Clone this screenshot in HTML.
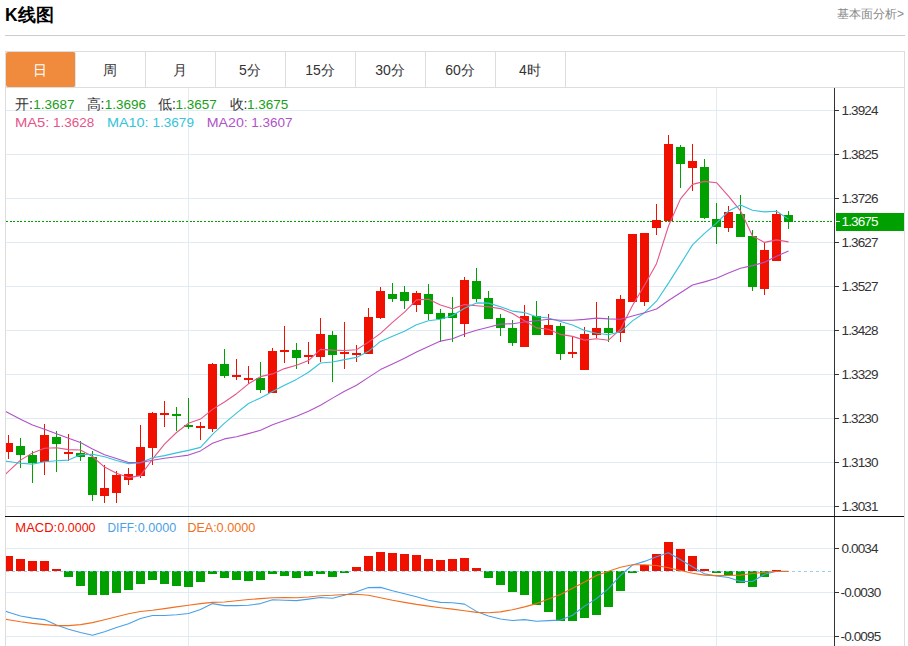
<!DOCTYPE html>
<html><head><meta charset="utf-8">
<style>
*{margin:0;padding:0;box-sizing:border-box}
html,body{width:908px;height:646px;overflow:hidden;background:#fff}
body{position:relative;font-family:"Liberation Sans",sans-serif;color:#333}
.abs{position:absolute;white-space:nowrap}
#title{left:5px;top:3.5px;font-size:17.5px;font-weight:bold;color:#000;line-height:22px}
#more{left:837px;top:6px;font-size:12px;color:#888;line-height:16px}
#hr{left:5px;top:35px;width:900px;height:1px;background:#ccc}
#tabs{left:5px;top:51px;width:900px;height:37px;border:1px solid #ddd}
.tab{position:absolute;top:0;height:35px;width:70px;border-right:1px solid #ddd;text-align:center;font-size:14px;line-height:37px;color:#333;text-indent:-1px}
.tab.on{background:#f08a3c;color:#fff;border-radius:2px;border-right:1px solid #dfe6eb;width:70px}
svg{position:absolute;left:0;top:0}
.info{font-size:13px;line-height:16px}
</style></head><body>
<div id="title" class="abs">K线图</div>
<div id="more" class="abs">基本面分析&gt;</div>
<div id="hr" class="abs"></div>
<div id="tabs" class="abs">
 <div class="tab on" style="left:0">日</div>
 <div class="tab" style="left:70px">周</div>
 <div class="tab" style="left:140px">月</div>
 <div class="tab" style="left:210px">5分</div>
 <div class="tab" style="left:280px">15分</div>
 <div class="tab" style="left:350px">30分</div>
 <div class="tab" style="left:420px">60分</div>
 <div class="tab" style="left:490px">4时</div>
</div>
<svg width="908" height="646" viewBox="0 0 908 646" shape-rendering="crispEdges">
 <!-- frame -->
 <rect x="5" y="88" width="1" height="558" fill="#ddd"/>
 <rect x="904" y="88" width="1" height="558" fill="#ddd"/>
 <!-- grid -->
 <g fill="#e1ebf3">
  <rect x="6" y="110" width="828" height="1"/>
  <rect x="6" y="154" width="828" height="1"/>
  <rect x="6" y="198" width="828" height="1"/>
  <rect x="6" y="242" width="828" height="1"/>
  <rect x="6" y="286" width="828" height="1"/>
  <rect x="6" y="330" width="828" height="1"/>
  <rect x="6" y="374" width="828" height="1"/>
  <rect x="6" y="418" width="828" height="1"/>
  <rect x="6" y="462" width="828" height="1"/>
  <rect x="6" y="506" width="828" height="1"/>
  <rect x="6" y="548" width="828" height="1"/>
  <rect x="6" y="592" width="828" height="1"/>
  <rect x="6" y="636" width="828" height="1"/>
  <rect x="188" y="88" width="1" height="558"/>
  <rect x="716" y="88" width="1" height="558"/>
 </g>
 <!-- axis -->
 <rect x="834" y="88" width="1" height="558" fill="#333"/>
 <rect x="5" y="516" width="899" height="1" fill="#111"/>
 <g fill="#333">
  <rect x="835" y="110" width="4" height="1"/>
  <rect x="835" y="154" width="4" height="1"/>
  <rect x="835" y="198" width="4" height="1"/>
  <rect x="835" y="242" width="4" height="1"/>
  <rect x="835" y="286" width="4" height="1"/>
  <rect x="835" y="330" width="4" height="1"/>
  <rect x="835" y="374" width="4" height="1"/>
  <rect x="835" y="418" width="4" height="1"/>
  <rect x="835" y="462" width="4" height="1"/>
  <rect x="835" y="506" width="4" height="1"/>
  <rect x="835" y="548" width="4" height="1"/>
  <rect x="835" y="592" width="4" height="1"/>
  <rect x="835" y="636" width="4" height="1"/>
 </g>
 <defs><clipPath id="cp"><rect x="6" y="88" width="828" height="428"/></clipPath>
 <clipPath id="cp2"><rect x="6" y="517" width="828" height="129"/></clipPath></defs>
 <g clip-path="url(#cp)">
 <line x1="6" y1="221.5" x2="834" y2="221.5" stroke="#00a000" stroke-width="1" stroke-dasharray="2 1.6"/>
 <rect x="8" y="435" width="1" height="24" fill="#f01000"/>
<rect x="4" y="443" width="9" height="9" fill="#f01000"/>
<rect x="20" y="438" width="1" height="30" fill="#00a000"/>
<rect x="16" y="446" width="9" height="9" fill="#00a000"/>
<rect x="32" y="451" width="1" height="32" fill="#00a000"/>
<rect x="28" y="455" width="9" height="8" fill="#00a000"/>
<rect x="44" y="424" width="1" height="51" fill="#f01000"/>
<rect x="40" y="435" width="9" height="27" fill="#f01000"/>
<rect x="56" y="431" width="1" height="41" fill="#00a000"/>
<rect x="52" y="437" width="9" height="7" fill="#00a000"/>
<rect x="68" y="434" width="1" height="27" fill="#f01000"/>
<rect x="64" y="452" width="9" height="2" fill="#f01000"/>
<rect x="80" y="441" width="1" height="20" fill="#00a000"/>
<rect x="76" y="453" width="9" height="4" fill="#00a000"/>
<rect x="92" y="451" width="1" height="50" fill="#00a000"/>
<rect x="88" y="457" width="9" height="38" fill="#00a000"/>
<rect x="104" y="465" width="1" height="38" fill="#f01000"/>
<rect x="100" y="488" width="9" height="8" fill="#f01000"/>
<rect x="116" y="471" width="1" height="32" fill="#f01000"/>
<rect x="112" y="475" width="9" height="18" fill="#f01000"/>
<rect x="128" y="468" width="1" height="17" fill="#f01000"/>
<rect x="124" y="474" width="9" height="6" fill="#f01000"/>
<rect x="140" y="425" width="1" height="53" fill="#f01000"/>
<rect x="136" y="447" width="9" height="29" fill="#f01000"/>
<rect x="152" y="412" width="1" height="53" fill="#f01000"/>
<rect x="148" y="413" width="9" height="35" fill="#f01000"/>
<rect x="164" y="401" width="1" height="26" fill="#f01000"/>
<rect x="160" y="413" width="9" height="2" fill="#f01000"/>
<rect x="176" y="407" width="1" height="24" fill="#00a000"/>
<rect x="172" y="414" width="9" height="2" fill="#00a000"/>
<rect x="188" y="398" width="1" height="31" fill="#00a000"/>
<rect x="184" y="425" width="9" height="2" fill="#00a000"/>
<rect x="200" y="422" width="1" height="18" fill="#f01000"/>
<rect x="196" y="426" width="9" height="2" fill="#f01000"/>
<rect x="212" y="363" width="1" height="69" fill="#f01000"/>
<rect x="208" y="364" width="9" height="65" fill="#f01000"/>
<rect x="224" y="349" width="1" height="29" fill="#00a000"/>
<rect x="220" y="364" width="9" height="12" fill="#00a000"/>
<rect x="236" y="359" width="1" height="21" fill="#f01000"/>
<rect x="232" y="375" width="9" height="2" fill="#f01000"/>
<rect x="248" y="366" width="1" height="18" fill="#f01000"/>
<rect x="244" y="378" width="9" height="2" fill="#f01000"/>
<rect x="260" y="362" width="1" height="31" fill="#00a000"/>
<rect x="256" y="378" width="9" height="12" fill="#00a000"/>
<rect x="272" y="348" width="1" height="45" fill="#f01000"/>
<rect x="268" y="351" width="9" height="42" fill="#f01000"/>
<rect x="284" y="326" width="1" height="37" fill="#f01000"/>
<rect x="280" y="350" width="9" height="2" fill="#f01000"/>
<rect x="296" y="343" width="1" height="26" fill="#00a000"/>
<rect x="292" y="350" width="9" height="8" fill="#00a000"/>
<rect x="308" y="342" width="1" height="22" fill="#f01000"/>
<rect x="304" y="355" width="9" height="2" fill="#f01000"/>
<rect x="320" y="318" width="1" height="44" fill="#f01000"/>
<rect x="316" y="334" width="9" height="23" fill="#f01000"/>
<rect x="332" y="331" width="1" height="51" fill="#00a000"/>
<rect x="328" y="335" width="9" height="20" fill="#00a000"/>
<rect x="344" y="322" width="1" height="47" fill="#f01000"/>
<rect x="340" y="352" width="9" height="2" fill="#f01000"/>
<rect x="356" y="345" width="1" height="17" fill="#f01000"/>
<rect x="352" y="353" width="9" height="2" fill="#f01000"/>
<rect x="368" y="308" width="1" height="46" fill="#f01000"/>
<rect x="364" y="317" width="9" height="37" fill="#f01000"/>
<rect x="380" y="287" width="1" height="32" fill="#f01000"/>
<rect x="376" y="291" width="9" height="27" fill="#f01000"/>
<rect x="392" y="283" width="1" height="19" fill="#00a000"/>
<rect x="388" y="294" width="9" height="5" fill="#00a000"/>
<rect x="404" y="286" width="1" height="23" fill="#00a000"/>
<rect x="400" y="292" width="9" height="9" fill="#00a000"/>
<rect x="416" y="291" width="1" height="21" fill="#f01000"/>
<rect x="412" y="293" width="9" height="12" fill="#f01000"/>
<rect x="428" y="284" width="1" height="36" fill="#00a000"/>
<rect x="424" y="294" width="9" height="20" fill="#00a000"/>
<rect x="440" y="309" width="1" height="33" fill="#00a000"/>
<rect x="436" y="313" width="9" height="6" fill="#00a000"/>
<rect x="452" y="297" width="1" height="45" fill="#00a000"/>
<rect x="448" y="313" width="9" height="5" fill="#00a000"/>
<rect x="464" y="277" width="1" height="60" fill="#f01000"/>
<rect x="460" y="280" width="9" height="44" fill="#f01000"/>
<rect x="476" y="268" width="1" height="34" fill="#00a000"/>
<rect x="472" y="281" width="9" height="18" fill="#00a000"/>
<rect x="488" y="291" width="1" height="28" fill="#00a000"/>
<rect x="484" y="298" width="9" height="21" fill="#00a000"/>
<rect x="500" y="314" width="1" height="22" fill="#00a000"/>
<rect x="496" y="318" width="9" height="10" fill="#00a000"/>
<rect x="512" y="320" width="1" height="26" fill="#00a000"/>
<rect x="508" y="328" width="9" height="15" fill="#00a000"/>
<rect x="524" y="305" width="1" height="42" fill="#f01000"/>
<rect x="520" y="316" width="9" height="31" fill="#f01000"/>
<rect x="536" y="301" width="1" height="34" fill="#00a000"/>
<rect x="532" y="316" width="9" height="19" fill="#00a000"/>
<rect x="548" y="314" width="1" height="21" fill="#f01000"/>
<rect x="544" y="325" width="9" height="10" fill="#f01000"/>
<rect x="560" y="323" width="1" height="37" fill="#00a000"/>
<rect x="556" y="326" width="9" height="28" fill="#00a000"/>
<rect x="572" y="336" width="1" height="22" fill="#f01000"/>
<rect x="568" y="352" width="9" height="2" fill="#f01000"/>
<rect x="584" y="327" width="1" height="43" fill="#f01000"/>
<rect x="580" y="334" width="9" height="36" fill="#f01000"/>
<rect x="596" y="302" width="1" height="36" fill="#f01000"/>
<rect x="592" y="328" width="9" height="7" fill="#f01000"/>
<rect x="608" y="316" width="1" height="26" fill="#00a000"/>
<rect x="604" y="328" width="9" height="5" fill="#00a000"/>
<rect x="620" y="295" width="1" height="47" fill="#f01000"/>
<rect x="616" y="299" width="9" height="34" fill="#f01000"/>
<rect x="632" y="234" width="1" height="68" fill="#f01000"/>
<rect x="628" y="234" width="9" height="68" fill="#f01000"/>
<rect x="644" y="233" width="1" height="73" fill="#f01000"/>
<rect x="640" y="233" width="9" height="69" fill="#f01000"/>
<rect x="656" y="204" width="1" height="31" fill="#f01000"/>
<rect x="652" y="220" width="9" height="8" fill="#f01000"/>
<rect x="668" y="135" width="1" height="86" fill="#f01000"/>
<rect x="664" y="144" width="9" height="77" fill="#f01000"/>
<rect x="680" y="145" width="1" height="43" fill="#00a000"/>
<rect x="676" y="147" width="9" height="17" fill="#00a000"/>
<rect x="692" y="144" width="1" height="47" fill="#f01000"/>
<rect x="688" y="161" width="9" height="7" fill="#f01000"/>
<rect x="704" y="159" width="1" height="60" fill="#00a000"/>
<rect x="700" y="167" width="9" height="51" fill="#00a000"/>
<rect x="716" y="203" width="1" height="41" fill="#00a000"/>
<rect x="712" y="219" width="9" height="8" fill="#00a000"/>
<rect x="728" y="206" width="1" height="26" fill="#f01000"/>
<rect x="724" y="212" width="9" height="16" fill="#f01000"/>
<rect x="740" y="195" width="1" height="42" fill="#00a000"/>
<rect x="736" y="214" width="9" height="23" fill="#00a000"/>
<rect x="752" y="230" width="1" height="61" fill="#00a000"/>
<rect x="748" y="236" width="9" height="51" fill="#00a000"/>
<rect x="764" y="243" width="1" height="52" fill="#f01000"/>
<rect x="760" y="250" width="9" height="39" fill="#f01000"/>
<rect x="776" y="210" width="1" height="51" fill="#f01000"/>
<rect x="772" y="214" width="9" height="47" fill="#f01000"/>
<rect x="788" y="211" width="1" height="18" fill="#00a000"/>
<rect x="784" y="215" width="9" height="7" fill="#00a000"/>
 <g shape-rendering="auto"><polyline points="-3.5,482.7 8.5,471.4 20.5,460.1 32.5,452.9 44.5,448.2 56.5,447.8 68.5,449.6 80.5,450.0 92.5,456.5 104.5,467.1 116.5,473.3 128.5,477.6 140.5,475.6 152.5,459.2 164.5,444.2 176.5,432.5 188.5,423.2 200.5,419.1 212.5,409.4 224.5,402.0 236.5,393.7 248.5,383.8 260.5,376.6 272.5,373.9 284.5,368.6 296.5,365.2 308.5,360.6 320.5,349.4 332.5,350.1 344.5,350.5 356.5,349.7 368.5,342.1 380.5,333.4 392.5,322.3 404.5,312.1 416.5,299.9 428.5,299.3 440.5,304.9 452.5,308.7 464.5,304.6 476.5,305.8 488.5,306.8 500.5,308.6 512.5,313.5 524.5,320.7 536.5,327.9 548.5,329.2 560.5,334.4 572.5,336.4 584.5,340.1 596.5,338.7 608.5,340.2 620.5,329.2 632.5,305.5 644.5,285.2 656.5,263.7 668.5,226.0 680.5,198.9 692.5,184.4 704.5,181.4 716.5,182.7 728.5,196.2 740.5,210.8 752.5,236.0 764.5,242.4 776.5,239.9 788.5,241.9" fill="none" stroke="#e5558a" stroke-width="1.1" stroke-linejoin="round"/><polyline points="-3.5,459.8 8.5,461.5 20.5,463.2 32.5,464.1 44.5,461.8 56.5,460.8 68.5,460.1 80.5,454.8 92.5,454.2 104.5,456.8 116.5,460.5 128.5,463.6 140.5,462.8 152.5,457.8 164.5,455.6 176.5,452.9 188.5,450.4 200.5,447.4 212.5,434.3 224.5,423.1 236.5,413.1 248.5,403.5 260.5,397.9 272.5,391.6 284.5,385.3 296.5,379.4 308.5,372.2 320.5,363.0 332.5,362.0 344.5,359.6 356.5,357.4 368.5,351.3 380.5,341.4 392.5,336.2 404.5,331.3 416.5,324.8 428.5,320.7 440.5,319.2 452.5,315.5 464.5,308.3 476.5,302.9 488.5,303.1 500.5,306.8 512.5,311.1 524.5,312.6 536.5,316.8 548.5,318.0 560.5,321.5 572.5,325.0 584.5,330.4 596.5,333.3 608.5,334.7 620.5,331.8 632.5,320.9 644.5,312.7 656.5,301.2 668.5,283.1 680.5,264.1 692.5,244.9 704.5,233.3 716.5,223.2 728.5,211.1 740.5,204.9 752.5,210.2 764.5,211.9 776.5,211.3 788.5,219.1" fill="none" stroke="#34c3dc" stroke-width="1.1" stroke-linejoin="round"/><polyline points="-3.5,406.8 8.5,413.0 20.5,419.2 32.5,425.1 44.5,429.3 56.5,433.7 68.5,438.3 80.5,442.6 92.5,448.9 104.5,454.8 116.5,458.5 128.5,462.5 140.5,462.5 152.5,460.2 164.5,458.2 176.5,456.7 188.5,455.1 200.5,450.9 212.5,443.2 224.5,438.9 236.5,436.8 248.5,433.6 260.5,430.3 272.5,424.7 284.5,420.5 296.5,416.2 308.5,411.3 320.5,405.2 332.5,398.1 344.5,391.3 356.5,385.3 368.5,377.4 380.5,369.6 392.5,363.9 404.5,358.3 416.5,352.1 428.5,346.4 440.5,341.1 452.5,338.8 464.5,334.0 476.5,330.2 488.5,327.2 500.5,324.1 512.5,323.7 524.5,322.0 536.5,320.8 548.5,319.3 560.5,320.3 572.5,320.2 584.5,319.4 596.5,318.1 608.5,318.9 620.5,319.3 632.5,316.0 644.5,312.7 656.5,309.0 668.5,300.5 680.5,292.8 692.5,285.0 704.5,281.9 716.5,278.2 728.5,272.9 740.5,268.3 752.5,265.6 764.5,262.3 776.5,256.2 788.5,251.1" fill="none" stroke="#b052c8" stroke-width="1.1" stroke-linejoin="round"/></g>
 </g>
 <g clip-path="url(#cp2)">
 <rect x="4" y="556" width="9" height="15" fill="#f01000"/>
<rect x="16" y="559" width="9" height="12" fill="#f01000"/>
<rect x="28" y="561" width="9" height="10" fill="#f01000"/>
<rect x="40" y="561" width="9" height="10" fill="#f01000"/>
<rect x="52" y="569" width="9" height="2" fill="#f01000"/>
<rect x="64" y="571" width="9" height="6" fill="#00a000"/>
<rect x="76" y="571" width="9" height="15" fill="#00a000"/>
<rect x="88" y="571" width="9" height="24" fill="#00a000"/>
<rect x="100" y="571" width="9" height="24" fill="#00a000"/>
<rect x="112" y="571" width="9" height="22" fill="#00a000"/>
<rect x="124" y="571" width="9" height="19" fill="#00a000"/>
<rect x="136" y="571" width="9" height="13" fill="#00a000"/>
<rect x="148" y="571" width="9" height="9" fill="#00a000"/>
<rect x="160" y="571" width="9" height="13" fill="#00a000"/>
<rect x="172" y="571" width="9" height="15" fill="#00a000"/>
<rect x="184" y="571" width="9" height="16" fill="#00a000"/>
<rect x="196" y="571" width="9" height="11" fill="#00a000"/>
<rect x="208" y="571" width="9" height="3" fill="#00a000"/>
<rect x="220" y="571" width="9" height="7" fill="#00a000"/>
<rect x="232" y="571" width="9" height="9" fill="#00a000"/>
<rect x="244" y="571" width="9" height="10" fill="#00a000"/>
<rect x="256" y="571" width="9" height="9" fill="#00a000"/>
<rect x="268" y="571" width="9" height="3" fill="#00a000"/>
<rect x="280" y="571" width="9" height="5" fill="#00a000"/>
<rect x="292" y="571" width="9" height="7" fill="#00a000"/>
<rect x="304" y="571" width="9" height="5" fill="#00a000"/>
<rect x="316" y="571" width="9" height="3" fill="#00a000"/>
<rect x="328" y="571" width="9" height="6" fill="#00a000"/>
<rect x="340" y="571" width="9" height="2" fill="#00a000"/>
<rect x="352" y="567" width="9" height="4" fill="#f01000"/>
<rect x="364" y="556" width="9" height="15" fill="#f01000"/>
<rect x="376" y="552" width="9" height="19" fill="#f01000"/>
<rect x="388" y="553" width="9" height="18" fill="#f01000"/>
<rect x="400" y="554" width="9" height="17" fill="#f01000"/>
<rect x="412" y="555" width="9" height="16" fill="#f01000"/>
<rect x="424" y="559" width="9" height="12" fill="#f01000"/>
<rect x="436" y="560" width="9" height="11" fill="#f01000"/>
<rect x="448" y="559" width="9" height="12" fill="#f01000"/>
<rect x="460" y="558" width="9" height="13" fill="#f01000"/>
<rect x="472" y="568" width="9" height="3" fill="#f01000"/>
<rect x="484" y="571" width="9" height="7" fill="#00a000"/>
<rect x="496" y="571" width="9" height="14" fill="#00a000"/>
<rect x="508" y="571" width="9" height="21" fill="#00a000"/>
<rect x="520" y="571" width="9" height="24" fill="#00a000"/>
<rect x="532" y="571" width="9" height="34" fill="#00a000"/>
<rect x="544" y="571" width="9" height="41" fill="#00a000"/>
<rect x="556" y="571" width="9" height="50" fill="#00a000"/>
<rect x="568" y="571" width="9" height="50" fill="#00a000"/>
<rect x="580" y="571" width="9" height="47" fill="#00a000"/>
<rect x="592" y="571" width="9" height="44" fill="#00a000"/>
<rect x="604" y="571" width="9" height="36" fill="#00a000"/>
<rect x="616" y="571" width="9" height="20" fill="#00a000"/>
<rect x="628" y="571" width="9" height="2" fill="#00a000"/>
<rect x="640" y="565" width="9" height="6" fill="#f01000"/>
<rect x="652" y="554" width="9" height="17" fill="#f01000"/>
<rect x="664" y="542" width="9" height="29" fill="#f01000"/>
<rect x="676" y="549" width="9" height="22" fill="#f01000"/>
<rect x="688" y="556" width="9" height="15" fill="#f01000"/>
<rect x="700" y="569" width="9" height="2" fill="#f01000"/>
<rect x="712" y="571" width="9" height="2" fill="#00a000"/>
<rect x="724" y="571" width="9" height="4" fill="#00a000"/>
<rect x="736" y="571" width="9" height="12" fill="#00a000"/>
<rect x="748" y="571" width="9" height="16" fill="#00a000"/>
<rect x="760" y="571" width="9" height="6" fill="#00a000"/>
<rect x="772" y="570" width="9" height="1" fill="#f01000"/>
 <line x1="6" y1="571.5" x2="831" y2="571.5" stroke="#74c4ea" stroke-width="1" stroke-dasharray="3 3" stroke-opacity="0.75"/>
 <g shape-rendering="auto"><polyline points="-3.5,608.4 8.5,612.2 20.5,616.0 32.5,618.1 44.5,619.6 56.5,625.1 68.5,629.2 80.5,632.5 92.5,635.3 104.5,631.7 116.5,627.6 128.5,623.8 140.5,618.5 152.5,615.5 164.5,615.5 176.5,614.8 188.5,613.5 200.5,609.4 212.5,603.6 224.5,605.6 236.5,605.6 248.5,605.3 260.5,603.6 272.5,599.8 284.5,600.3 296.5,600.6 308.5,599.1 320.5,597.5 332.5,598.3 344.5,595.3 356.5,591.7 368.5,587.6 380.5,587.4 392.5,590.7 404.5,593.7 416.5,596.7 428.5,600.3 440.5,602.4 452.5,602.8 464.5,604.1 476.5,611.4 488.5,616.0 500.5,619.0 512.5,620.5 524.5,619.6 536.5,621.3 548.5,620.6 560.5,620.1 572.5,615.2 584.5,606.1 596.5,598.6 608.5,588.6 620.5,575.4 632.5,565.0 644.5,561.4 656.5,556.8 668.5,552.8 680.5,559.7 692.5,566.7 704.5,573.9 716.5,576.0 728.5,577.5 740.5,581.4 752.5,581.5 764.5,574.3 776.5,571.2 788.5,571.2" fill="none" stroke="#4aa0e8" stroke-width="1.1" stroke-linejoin="round"/><polyline points="-3.5,617.8 8.5,619.8 20.5,621.8 32.5,623.4 44.5,624.6 56.5,625.6 68.5,625.6 80.5,624.6 92.5,622.6 104.5,619.8 116.5,616.8 128.5,613.8 140.5,611.5 152.5,610.2 164.5,608.6 176.5,606.9 188.5,605.3 200.5,603.6 212.5,602.4 224.5,602.0 236.5,600.8 248.5,599.5 260.5,598.6 272.5,597.8 284.5,597.5 296.5,597.8 308.5,597.0 320.5,595.8 332.5,595.3 344.5,594.5 356.5,594.2 368.5,595.3 380.5,597.8 392.5,600.3 404.5,602.4 416.5,604.4 428.5,606.1 440.5,607.7 452.5,609.1 464.5,610.7 476.5,612.4 488.5,612.7 500.5,611.9 512.5,609.7 524.5,606.9 536.5,603.6 548.5,599.1 560.5,594.5 572.5,588.2 584.5,582.1 596.5,575.4 608.5,571.3 620.5,567.2 632.5,564.7 644.5,564.7 656.5,565.5 668.5,567.7 680.5,570.5 692.5,573.3 704.5,575.1 716.5,575.6 728.5,575.5 740.5,575.1 752.5,573.5 764.5,572.3 776.5,571.5 788.5,571.5" fill="none" stroke="#f07020" stroke-width="1.1" stroke-linejoin="round"/></g>
 </g>
 <rect x="836" y="213" width="68" height="18" fill="#00a000"/>
 <rect x="836" y="221" width="4" height="1" fill="#fff"/>
 <g font-family="Liberation Sans, sans-serif" font-size="13.5" fill="#333" shape-rendering="auto" letter-spacing="-0.85">
  <text x="841.5" y="115">1.3924</text>
  <text x="841.5" y="159">1.3825</text>
  <text x="841.5" y="203">1.3726</text>
  <text x="841.5" y="247">1.3627</text>
  <text x="841.5" y="291">1.3527</text>
  <text x="841.5" y="335">1.3428</text>
  <text x="841.5" y="379">1.3329</text>
  <text x="841.5" y="423">1.3230</text>
  <text x="841.5" y="467">1.3130</text>
  <text x="841.5" y="511">1.3031</text>
  <text x="841.5" y="226" fill="#fff">1.3675</text>
  <text x="841.5" y="553">0.0034</text>
  <text x="840.5" y="597">-0.0030</text>
  <text x="840.5" y="641">-0.0095</text>
 </g>
</svg>
<svg width="908" height="646" style="position:absolute;left:0;top:0">
<g font-family="Liberation Sans, sans-serif" font-size="13.5">
 <g fill="#333" font-size="14"><text x="15" y="109">开:</text><text x="86.5" y="109">高:</text><text x="158" y="109">低:</text><text x="229.5" y="109">收:</text></g>
 <g fill="#18a018"><text x="33.2" y="109">1.3687</text><text x="104.7" y="109">1.3696</text><text x="175.5" y="109">1.3657</text><text x="247" y="109">1.3675</text></g>
 <g fill="#e5558a"><text x="14.9" y="126.5" textLength="34.5" lengthAdjust="spacingAndGlyphs">MA5:</text><text x="52.9" y="126.5">1.3628</text></g>
 <g fill="#34c3dc"><text x="106.9" y="126.5" textLength="41.7" lengthAdjust="spacingAndGlyphs">MA10:</text><text x="152.6" y="126.5">1.3679</text></g>
 <g fill="#b052c8"><text x="206.8" y="126.5" textLength="41" lengthAdjust="spacingAndGlyphs">MA20:</text><text x="251.3" y="126.5">1.3607</text></g>
 <g fill="#f01000" font-size="13"><text x="15.3" y="532">MACD:</text><text x="57.5" y="532" textLength="38" lengthAdjust="spacingAndGlyphs">0.0000</text></g>
 <g fill="#4aa0e8" font-size="13"><text x="107.5" y="532" textLength="29.7" lengthAdjust="spacingAndGlyphs">DIFF:</text><text x="137.8" y="532" textLength="38.5" lengthAdjust="spacingAndGlyphs">0.0000</text></g>
 <g fill="#f07020" font-size="13"><text x="187.5" y="532" textLength="29.1" lengthAdjust="spacingAndGlyphs">DEA:</text><text x="216.6" y="532" textLength="38.8" lengthAdjust="spacingAndGlyphs">0.0000</text></g>
</g></svg>
</body></html>
